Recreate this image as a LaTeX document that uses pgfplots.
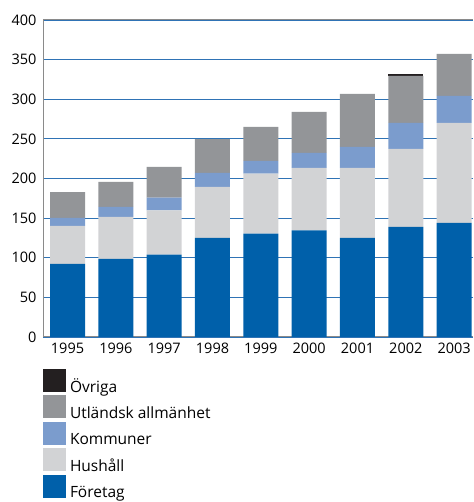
\documentclass[border=0pt]{standalone}
\usepackage{pgfplots}
\pgfplotsset{compat=1.18}
\usepackage{fontspec}
\setmainfont{Open Sans}
\definecolor{foretag}{HTML}{0060AA}
\definecolor{hushall}{HTML}{D2D3D5}
\definecolor{kommuner}{HTML}{7B9CCD}
\definecolor{utl}{HTML}{939598}
\definecolor{ovriga}{HTML}{231F20}
\definecolor{gridblue}{HTML}{2F73B5}
\definecolor{axgray}{HTML}{8A8A8A}
\begin{document}
\begin{tikzpicture}
\clip (0,0) rectangle (473pt,502pt);
\useasboundingbox (0,0) rectangle (473pt,502pt);
\begin{axis}[
  at={(43pt,165pt)}, anchor=south west,
  scale only axis, width=430pt, height=317pt,
  ybar stacked, bar width=35pt,
  xmin=-0.507, xmax=8.39, ymin=0, ymax=400,
  xtick={0,...,8},
  xticklabels={1995,1996,1997,1998,1999,2000,2001,2002,2003},
  ytick={0,50,...,400},
  major tick length=0pt,
  axis line style={draw=none},
  ymajorgrids, grid style={gridblue, line width=0.8pt},
  tick label style={font=\fontsize{14.5}{16}\selectfont},
  /pgf/number format/assume math mode=true,
  yticklabel style={xshift=-3pt},
  xticklabel style={yshift=-2pt},
  legend style={at={(0,-0.1010)}, anchor=north west, draw=none, fill=none,
    inner sep=0pt, outer sep=0pt, row sep=0pt, column sep=4pt,
    font=\fontsize{15.5}{17}\selectfont,
    nodes={inner sep=0pt, text depth=0pt, anchor=base west}},
  legend cell align=left,
  reverse legend,
  legend image code/.code={\fill[#1] (0pt,0pt) rectangle (23pt,23pt); \path (0pt,-3.4pt);},
]
\addplot[fill=foretag, draw=none] coordinates {(0,92.4) (1,98.7) (2,103.8) (3,125.2) (4,130.3) (5,134.5) (6,125.2) (7,139.1) (8,144.1)};
\addplot[fill=hushall, draw=none] coordinates {(0,47.9) (1,53.0) (2,55.9) (3,64.3) (4,76.0) (5,78.9) (6,88.2) (7,98.3) (8,126.1)};
\addplot[fill=kommuner, draw=none] coordinates {(0,10.1) (1,12.6) (2,16.3) (3,17.6) (4,16.0) (5,19.0) (6,26.5) (7,32.8) (8,34.0)};
\addplot[fill=utl, draw=none] coordinates {(0,32.4) (1,31.5) (2,38.7) (3,42.5) (4,42.8) (5,51.6) (6,66.8) (7,59.2) (8,52.9)};
\addplot[fill=ovriga, draw=none] coordinates {(0,0) (1,0) (2,0) (3,0) (4,0) (5,0) (6,0) (7,2.5) (8,0)};
\legend{Företag,Hushåll,Kommuner,Utländsk allmänhet,Övriga}
\draw[axgray, line width=1pt] (rel axis cs:0,0) -- (rel axis cs:0,1) -- (rel axis cs:1,1);
\draw[axgray, line width=1pt] (rel axis cs:0,0) -- (rel axis cs:1,0);
\end{axis}
\end{tikzpicture}
\end{document}
